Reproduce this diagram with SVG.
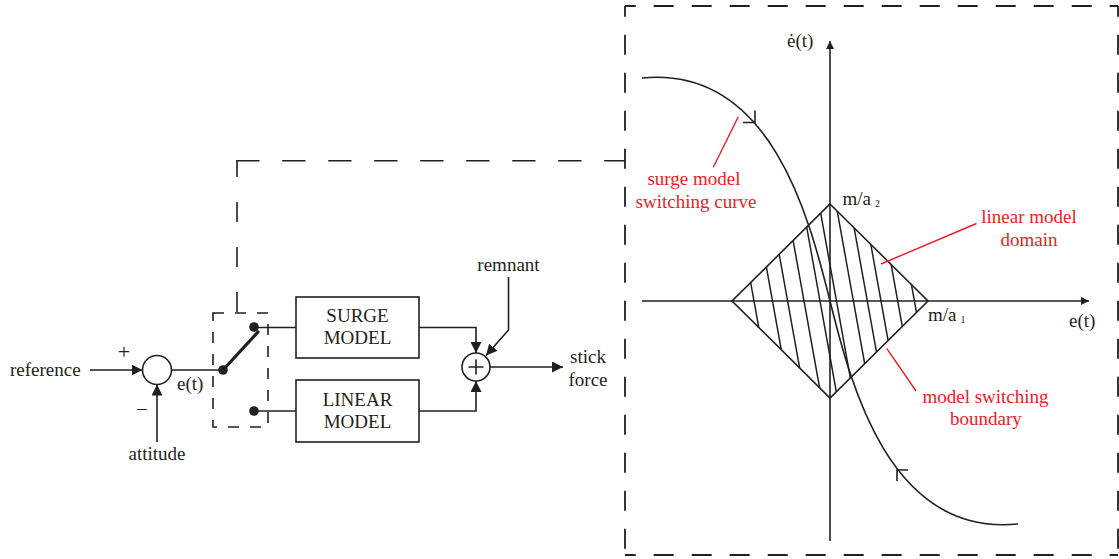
<svg xmlns="http://www.w3.org/2000/svg" width="1119" height="559" viewBox="0 0 1119 559">
<style>
.ln{fill:none;stroke:#231f20;stroke-width:1.6}
.thk{fill:none;stroke:#231f20;stroke-width:3.2;stroke-linecap:round}
.t{font-family:"Liberation Serif","Times New Roman",serif;font-size:19px;fill:#231f20}
.m{text-anchor:middle}
.sub{font-size:10px}
.rt{font-family:"Liberation Serif","Times New Roman",serif;font-size:19px;fill:#ed1c24;text-anchor:middle}
.red{fill:none;stroke:#ed1c24;stroke-width:1.4}
.dbig{fill:none;stroke:#231f20;stroke-width:1.8;stroke-dasharray:20 18;stroke-dashoffset:9.3}
.dot{fill:#231f20}
.hatch{fill:none;stroke:#231f20;stroke-width:1.5}
</style>
<defs>
<marker id="ah" viewBox="0 0 10 10" refX="10" refY="5" markerWidth="11" markerHeight="11" markerUnits="userSpaceOnUse" orient="auto"><path d="M0,0 L10,5 L0,10 z" fill="#231f20"/></marker>
<marker id="ax" viewBox="0 0 10 10" refX="10" refY="5" markerWidth="8" markerHeight="8" markerUnits="userSpaceOnUse" orient="auto"><path d="M0,0 L10,5 L0,10 z" fill="#231f20"/></marker>
<clipPath id="dc"><polygon points="830,204 928,301 830,398 732,301"/></clipPath>
</defs>

<g id="phase-plane-frame">
<path class="dbig" d="M625,6 H1118"/>
<path class="dbig" d="M1118,6 V555"/>
<path class="dbig" d="M625,555 H1118"/>
<path class="dbig" d="M625,6 V555"/>
</g>

<g id="sum1">
<circle cx="157" cy="370" r="14.5" class="ln" fill="#fff"/>
<text class="t m" x="124" y="359" style="font-size:22px">+</text>
<text class="t m" x="142" y="414">–</text>
</g>

<g id="reference"><text class="t" x="10" y="376">reference</text></g>
<g id="attitude"><text class="t m" x="157" y="460">attitude</text></g>
<g id="et-label"><text class="t" x="177" y="390">e(t)</text></g>

<g id="switch">
<rect x="213" y="313" width="55" height="114" fill="none" stroke="#231f20" stroke-width="1.6" stroke-dasharray="11 11"/>
<circle class="dot" cx="223" cy="370" r="4.8"/>
<circle class="dot" cx="254" cy="327" r="4.8"/>
<circle class="dot" cx="254" cy="411" r="4.8"/>
<line class="thk" x1="223" y1="370" x2="258" y2="332"/>
</g>

<g id="surge-model">
<rect x="296" y="297" width="123" height="61" class="ln" fill="#fff"/>
<text class="t m" x="357.5" y="322">SURGE</text>
<text class="t m" x="357.5" y="344">MODEL</text>
</g>

<g id="linear-model">
<rect x="296" y="380" width="123" height="62" class="ln" fill="#fff"/>
<text class="t m" x="357.5" y="406">LINEAR</text>
<text class="t m" x="357.5" y="428">MODEL</text>
</g>

<g id="sum2">
<circle cx="476" cy="367" r="14" class="ln" fill="#fff"/>
<path class="ln" d="M468.5,367 H483.5 M476,359.5 V374.5"/>
</g>

<g id="remnant"><text class="t m" x="508.5" y="271">remnant</text></g>
<g id="stick-force">
<text class="t m" x="588" y="363">stick</text>
<text class="t m" x="588" y="386">force</text>
</g>

<g id="connectors">
<line class="ln" x1="90" y1="370" x2="142.5" y2="370" marker-end="url(#ah)"/>
<line class="ln" x1="157" y1="442" x2="157" y2="384.5" marker-end="url(#ah)"/>
<line class="ln" x1="171.5" y1="370" x2="223" y2="370"/>
<line class="ln" x1="254" y1="327.5" x2="296" y2="327.5"/>
<line class="ln" x1="254" y1="411" x2="296" y2="411"/>
<path class="ln" d="M419,327.5 H476 V353" marker-end="url(#ah)"/>
<path class="ln" d="M419,411 H476 V381" marker-end="url(#ah)"/>
<path class="ln" d="M508.5,277 V330 L486,355.5" marker-end="url(#ah)"/>
<line class="ln" x1="490" y1="367" x2="563" y2="367" marker-end="url(#ah)"/>
<line x1="237" y1="312" x2="237" y2="160.7" fill="none" stroke="#231f20" stroke-width="1.6" stroke-dasharray="20 25"/>
<line x1="236.2" y1="160.7" x2="625" y2="160.7" fill="none" stroke="#231f20" stroke-width="1.6" stroke-dasharray="23.3 22.7"/>
</g>

<g id="phase-plane">
<line class="ln" x1="830" y1="541" x2="830" y2="41" marker-end="url(#ax)"/>
<line class="ln" x1="642" y1="301" x2="1089" y2="301" marker-end="url(#ax)"/>
<text class="t" x="787" y="47">ė(t)</text>
<text class="t" x="1069" y="327">e(t)</text>
<text class="t" x="842.5" y="205">m/a<tspan class="sub" dx="4" dy="1.5">2</tspan></text>
<text class="t" x="928" y="321">m/a<tspan class="sub" dx="4" dy="1.5">1</tspan></text>
</g>

<g id="linear-domain">
<g clip-path="url(#dc)">
<path class="hatch" d="M736,201 L772,401 M754.5,201 L790.5,401 M769.6,201 L805.6,401 M786,201 L822,401 M802,201 L838,401 M818.5,201 L854.5,401 M835.4,201 L871.4,401 M849.3,201 L885.3,401 M863,201 L899,401 M879.7,201 L915.7,401 M896.4,201 L932.4,401"/>
</g>
<polygon class="ln" points="830,204 928,301 830,398 732,301"/>
</g>

<g id="switching-curve">
<path class="ln" d="M642,78 C772,65 810,221 830,301 C850,381 888,537 1018,524"/>
<path class="ln" d="M743,122.5 H755 V110.5"/>
<path class="ln" d="M908,470 H897 V481"/>
</g>

<g id="annotations">
<line class="red" x1="713.3" y1="167.3" x2="738.3" y2="116.7"/>
<text class="rt" x="694" y="185">surge model</text>
<text class="rt" x="696" y="208">switching curve</text>
<line class="red" x1="976.5" y1="223.5" x2="881" y2="264"/>
<text class="rt" x="1029" y="223">linear model</text>
<text class="rt" x="1029" y="246">domain</text>
<line class="red" x1="916" y1="391" x2="886.7" y2="348.3"/>
<text class="rt" x="985.5" y="403">model switching</text>
<text class="rt" x="986" y="425">boundary</text>
</g>
</svg>
